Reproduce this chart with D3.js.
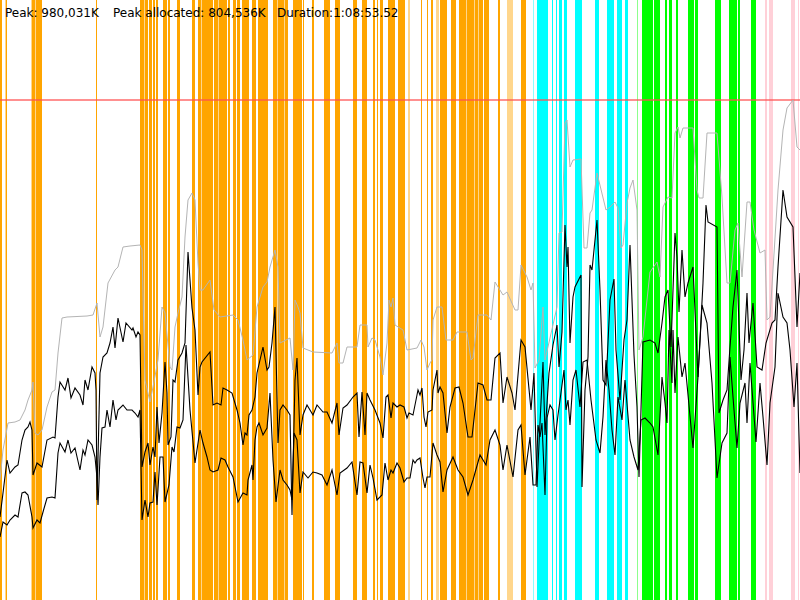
<!DOCTYPE html>
<html><head><meta charset="utf-8">
<script src="https://cdn.jsdelivr.net/npm/d3@7"></script>
<style>body{margin:0;background:#fff}svg{display:block}</style>
</head><body>
<svg id="c" width="800" height="600"></svg>
<script>
// header texts
const headerLabels = ["Peak: 980,031K", "Peak allocated: 804,536K", "Duration:1:08:53.52"];
// GC events: [start, end, kind]
const gcEvents = [
[0,2,"o"],[5,6,"ol"],[6,7,"o"],[31,32,"ol"],[32,35,"o"],[35,36,"ol"],[36,42,"o"],[96,97,"o"],
[140,144,"o"],[144,145,"ol"],[145,148,"o"],[149,152,"o"],[153,155,"o"],[156,158,"o"],[163,167,"o"],[168,170,"o"],[177,180,"o"],[192,195,"o"],
[198,201,"o"],[201,202,"ol"],[202,213,"o"],[214,218,"o"],[218,219,"ol"],[219,227,"o"],[228,230,"o"],[233,236,"o"],[237,240,"o"],[242,249,"o"],[252,256,"o"],[258,268,"o"],
[273,277,"o"],[277,278,"ol"],[278,284,"o"],[284,285,"ol"],[285,288,"o"],[293,302,"o"],[303,304,"o"],[312,314,"o"],[324,330,"o"],[335,340,"o"],[353,357,"o"],[362,367,"o"],
[373,375,"o"],[377,378,"o"],[380,383,"o"],[388,395,"o"],[398,403,"o"],[403,405,"o"],[408,410,"ol"],[421,422,"o"],[427,428,"o"],[431,433,"o"],[436,439,"ol"],[440,447,"o"],
[451,456,"o"],[459,466,"o"],[466,467,"ol"],[467,474,"o"],[474,475,"ol"],[475,478,"o"],[478,479,"ol"],[479,483,"o"],[484,489,"o"],[498,500,"o"],[507,513,"ol"],[521,526,"o"],
[533,534,"cl"],[537,548,"c"],[552,553,"c"],[556,557,"c"],[559,562,"c"],[564,567,"c"],[575,582,"c"],[595,599,"c"],[607,614,"c"],[617,622,"c"],[625,628,"c"],
[637,638,"gl"],[642,653,"g"],[654,657,"g"],[657,660,"g"],[665,667,"g"],[669,672,"g"],[676,678,"g"],[688,694,"g"],[695,698,"g"],[715,721,"g"],[729,737,"g"],[738,740,"g"],[751,756,"g"],
[765,767,"p"],[769,773,"p"],[791,795,"p"],[798,799,"p"]
];
const heapLimit = 1000;
// heap size (MB) over time
const heapSize = [
[0,240],[3,300],[8,354],[15,356],[20,360],[25,380],[28,400],[32,420],[33,436],[35,334],[38,330],[42,340],[47,386],[52,416],[55,420],[58,494],[62,564],[67,566],[87,568],[93,570],[97,594],
[100,526],[103,546],[108,634],[115,660],[118,666],[123,706],[130,708],[140,710],[142,700],[145,440],[150,396],[153,426],[158,480],[162,586],[165,574],[170,466],[172,460],[175,546],[178,574],[182,606],[185,726],[188,800],[192,814],[195,800],[198,674],
[200,620],[203,620],[210,640],[214,580],[220,566],[233,570],[238,560],[243,520],[247,480],[253,490],[257,586],[263,626],[267,636],[270,666],[275,700],[278,666],[280,514],[290,524],[293,460],[295,600],[298,586],
[300,574],[303,504],[313,496],[332,494],[337,514],[339,474],[343,474],[347,506],[357,506],[360,550],[367,550],[368,506],[372,524],[375,520],[380,486],[383,450],[387,514],[389,600],[391,586],[393,604],[395,550],
[403,540],[407,500],[417,504],[421,520],[424,506],[427,460],[430,474],[432,480],[433,560],[437,586],[442,586],[446,520],[453,520],[457,536],[467,536],[471,480],[473,484],[478,570],[487,570],[491,560],[495,636],
[503,610],[507,616],[515,580],[518,580],[521,670],[527,646],[531,620],[533,634],[535,464],[539,480],[543,586],[545,480],[550,524],[557,586],[559,734],[562,736],[565,954],[567,960],[570,866],[573,880],[581,882],[584,704],[587,704],[590,774],[592,780],[597,854],
[606,780],[610,786],[615,796],[618,784],[621,704],[623,710],[627,794],[630,824],[633,840],[637,780],[639,500],[643,526],[650,656],[657,676],[660,646],[663,786],[668,806],[672,804],[675,934],[678,946],[680,924],[683,944],[693,944],[697,820],[699,804],
[703,804],[707,934],[717,934],[722,806],[727,634],[730,634],[735,740],[738,754],[742,646],[747,796],[750,796],[754,740],[760,694],[765,700],[767,560],[770,566],[773,660],[778,820],[783,940],[787,984],[793,1000],[797,906],[800,900]
];
// used memory before GC (MB)
const usedBefore = [
[0,166],[3,214],[7,280],[10,254],[15,266],[18,270],[22,320],[25,340],[28,346],[30,356],[32,340],[33,250],[37,274],[42,266],[47,320],[53,326],[55,324],[58,406],[60,436],[65,420],[68,444],[71,404],[75,424],[80,410],[83,390],[85,440],[88,420],[92,466],[95,454],[96,420],[97,200],
[100,454],[103,486],[107,494],[110,514],[113,546],[115,504],[118,564],[123,516],[126,554],[132,540],[133,544],[136,526],[138,536],[140,530],[142,266],[145,296],[148,314],[150,270],[153,306],[155,286],[157,386],[159,314],[162,374],[165,476],[167,414],[168,310],[171,326],[173,440],[175,436],[178,480],[182,494],[185,514],[188,696],[192,584],[195,540],[198,410],
[200,466],[202,476],[210,496],[213,390],[217,394],[221,390],[223,424],[227,420],[232,414],[237,380],[240,354],[243,310],[245,334],[247,330],[249,370],[252,380],[255,406],[257,454],[260,480],[263,506],[267,460],[269,466],[272,514],[275,586],[278,314],[280,380],[283,390],[287,380],[290,370],[292,170],[295,440],[297,484],
[300,330],[303,370],[307,390],[313,370],[317,390],[323,376],[327,376],[332,354],[337,394],[339,330],[343,384],[347,390],[353,406],[357,414],[359,326],[362,416],[365,330],[367,414],[370,400],[375,380],[380,354],[383,324],[386,406],[388,410],[391,364],[393,394],[397,386],
[400,390],[404,386],[407,364],[409,374],[413,370],[417,410],[418,420],[420,410],[422,424],[424,366],[426,346],[428,376],[432,380],[433,420],[437,460],[438,414],[440,426],[443,414],[447,334],[450,386],[455,424],[459,426],[463,394],[468,326],[472,326],[478,434],[483,430],[487,400],[491,400],[495,484],
[500,494],[503,394],[507,446],[512,414],[515,380],[521,520],[525,506],[531,380],[534,454],[537,226],[540,354],[543,476],[545,330],[549,454],[553,510],[557,550],[559,466],[562,536],[565,750],[567,666],[568,706],[570,514],[573,606],[575,626],[581,650],[582,226],[585,420],[588,486],[590,670],[592,660],[597,760],
[600,620],[603,440],[606,430],[610,600],[614,642],[616,500],[620,400],[624,520],[627,560],[630,710],[634,490],[637,386],[639,246],[643,516],[650,520],[655,514],[658,494],[662,554],[665,606],[668,620],[671,506],[673,620],[675,734],[677,686],[679,576],[682,700],[685,606],[688,634],[693,666],[698,446],
[703,634],[706,790],[708,756],[717,746],[719,374],[723,400],[727,420],[730,506],[733,586],[737,660],[741,440],[744,500],[747,614],[749,514],[753,594],[757,466],[762,460],[766,514],[772,554],[775,560],[778,666],[783,820],[787,766],[793,746],[797,546],[800,654]
];
// used memory after GC (MB)
const usedAfter = [
[0,126],[3,156],[7,150],[10,160],[15,170],[18,166],[22,214],[25,216],[28,210],[32,166],[33,144],[37,160],[40,154],[43,176],[47,204],[52,206],[55,204],[58,294],[60,314],[65,296],[68,320],[71,294],[75,304],[80,260],[83,300],[85,290],[88,320],[92,310],[95,286],[97,244],[98,190],
[100,286],[102,344],[105,346],[107,380],[110,346],[113,400],[116,360],[118,380],[123,390],[127,380],[132,380],[135,374],[138,366],[140,380],[142,160],[145,200],[148,166],[150,194],[153,196],[155,256],[157,190],[160,286],[163,286],[165,196],[169,230],[172,306],[174,296],[177,346],[180,344],[183,360],[186,510],[190,380],[195,274],
[200,340],[203,314],[207,286],[210,260],[213,256],[218,260],[221,284],[225,280],[228,266],[233,246],[238,196],[243,214],[247,210],[248,240],[252,270],[253,240],[255,320],[257,346],[259,354],[263,330],[267,344],[270,414],[273,280],[276,196],[280,260],[283,240],[287,230],[290,220],[292,200],[294,334],[297,320],
[300,214],[303,256],[308,244],[313,256],[317,254],[322,250],[327,230],[332,260],[337,210],[340,254],[347,264],[352,276],[357,210],[360,276],[363,274],[367,214],[370,270],[373,244],[377,200],[382,210],[385,274],[388,240],[391,260],[393,254],[397,274],
[400,264],[404,236],[407,244],[410,244],[413,280],[415,274],[417,280],[420,284],[423,244],[425,224],[427,246],[430,246],[433,314],[437,290],[440,276],[443,216],[447,260],[453,286],[458,260],[463,246],[468,210],[473,240],[480,290],[486,270],[490,320],[495,340],
[500,310],[503,260],[507,310],[513,246],[518,340],[521,350],[525,250],[530,326],[533,230],[536,230],[538,350],[540,326],[542,354],[545,210],[547,364],[550,390],[553,380],[555,320],[558,370],[562,430],[564,460],[566,380],[568,400],[570,350],[573,440],[576,460],[580,386],[583,476],[587,480],[591,400],[596,320],
[600,294],[603,366],[606,480],[609,420],[612,340],[615,290],[618,406],[622,360],[625,440],[630,320],[634,286],[638,260],[641,360],[645,364],[650,354],[653,346],[658,290],[662,446],[665,394],[667,354],[669,540],[672,434],[673,540],[675,414],[678,526],[682,446],[685,474],[693,304],[698,446],
[702,590],[707,554],[712,434],[717,244],[722,314],[727,334],[730,486],[733,406],[737,304],[740,394],[745,434],[747,354],[750,474],[756,316],[760,434],[763,366],[767,270],[770,394],[775,466],[778,614],[783,566],[787,554],[790,500],[794,386],[797,474],[800,254]
];

const W = 800, H = 600;
const svg = d3.select("#c");
const x = d3.scaleLinear().domain([0, 800]).range([0, W]);
const y = d3.scaleLinear().domain([0, 1200]).range([H, 0]);

const kindColor = {
  o: ["#ffa500", 1], ol: ["#ffa500", 0.45],
  c: ["#00ffff", 1], cl: ["#00ffff", 0.45],
  g: ["#00ff00", 1], gl: ["#00ff00", 0.45],
  p: ["#ffd0d8", 1]
};

svg.append("g").selectAll("rect").data(gcEvents).join("rect")
  .attr("x", d => x(d[0]))
  .attr("width", d => Math.max(1, x(d[1]) - x(d[0])))
  .attr("y", 0).attr("height", H)
  .attr("fill", d => kindColor[d[2]][0])
  .attr("fill-opacity", d => kindColor[d[2]][1]);

svg.append("line")
  .attr("x1", 0).attr("x2", W)
  .attr("y1", y(heapLimit)).attr("y2", y(heapLimit))
  .attr("stroke", "#ff5050").attr("stroke-opacity", 0.85).attr("stroke-width", 1.5);

const line = d3.line().x(d => x(d[0])).y(d => y(d[1]));
svg.append("path").datum(heapSize).attr("d", line)
  .attr("fill", "none").attr("stroke", "#b4b4b4").attr("stroke-width", 1);
svg.append("path").datum(usedBefore).attr("d", line)
  .attr("fill", "none").attr("stroke", "#000").attr("stroke-width", 1.1);
svg.append("path").datum(usedAfter).attr("d", line)
  .attr("fill", "none").attr("stroke", "#000").attr("stroke-width", 1.1);

const labelX = [5, 113, 277];
svg.append("g").selectAll("text").data(headerLabels).join("text")
  .attr("x", (d, i) => labelX[i]).attr("y", 17)
  .attr("font-family", "DejaVu Sans, sans-serif").attr("font-size", 12)
  .attr("fill", "#000").text(d => d);
</script>
</body></html>
